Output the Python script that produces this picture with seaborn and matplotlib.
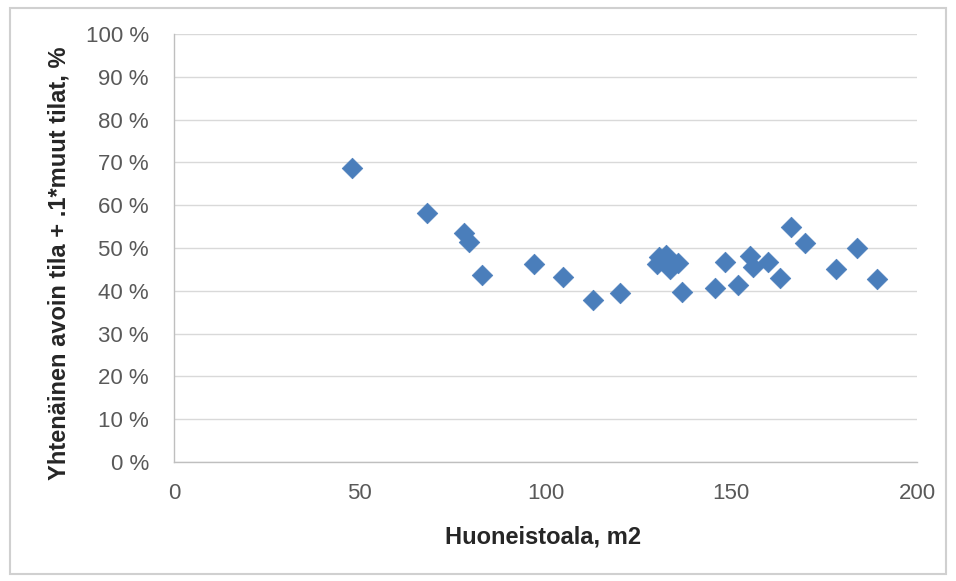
import matplotlib
matplotlib.use("Agg")
import matplotlib.pyplot as plt
from matplotlib.patches import Rectangle
from matplotlib.ticker import FuncFormatter, MultipleLocator
import seaborn as sns
import pandas as pd

# huoneistoala (m2) ja yhtenäinen avoin tila (%)
area = [48, 68, 78, 79.5, 83, 97, 104.7, 112.8, 120,
        130, 130.5, 132.5, 133.5, 135.7, 136.7, 145.6, 148.3, 151.9,
        155, 155.9, 160, 163.1, 166, 169.8, 178.2, 183.9, 189.1]
open_share = [68.7, 58.2, 53.5, 51.4, 43.6, 46.3, 43.2, 37.9, 39.4,
              46.3, 47.8, 48.4, 45.0, 46.5, 39.8, 40.7, 46.8, 41.4,
              48.2, 45.6, 46.8, 43.1, 55.0, 51.2, 45.0, 49.9, 42.7]

df = pd.DataFrame({"area": area, "share": open_share})

sns.set_style("white")
plt.rcParams["font.family"] = ["Liberation Sans", "DejaVu Sans"]

fig = plt.figure(figsize=(9.56, 5.81), dpi=100)
ax = fig.add_axes([174 / 956, 1 - 462 / 581, (917 - 174) / 956, (462 - 34) / 581])

sns.scatterplot(data=df, x="area", y="share", marker="D", s=110,
                color="#4a7ebb", edgecolor="#4a7ebb", linewidth=0.5, ax=ax, zorder=3)

ax.set_xlim(0, 200)
ax.set_ylim(0, 100)
ax.xaxis.set_major_locator(MultipleLocator(50))
ax.yaxis.set_major_locator(MultipleLocator(10))
ax.yaxis.set_major_formatter(FuncFormatter(lambda v, p: f"{int(v)} %"))

ax.grid(axis="y", color="#d9d9d9", linewidth=1)
ax.set_axisbelow(True)
for side in ["top", "right"]:
    ax.spines[side].set_visible(False)
for side in ["left", "bottom"]:
    ax.spines[side].set_color("#bfbfbf")
    ax.spines[side].set_linewidth(1)

ax.tick_params(axis="both", direction="out", length=5, width=1, color="#bfbfbf",
               labelsize=16, labelcolor="#595959")
ax.tick_params(axis="y", pad=13)
ax.tick_params(axis="x", pad=10)

ax.set_xlabel("Huoneistoala, m2", fontsize=17, fontweight="bold", color="#262626", va="center")
ax.set_ylabel("Yhtenäinen avoin tila + .1*muut tilat, %", fontsize=17, fontweight="bold",
              color="#262626", va="center")
ax.xaxis.set_label_coords(0.497, -0.175)
ax.yaxis.set_label_coords(-0.155, 0.465)

# kehys kuvan ympärille
fig.patches.append(Rectangle((10 / 956, 1 - 574 / 581), 936 / 956, 566 / 581,
                             transform=fig.transFigure, fill=False,
                             edgecolor="#d0d0d0", linewidth=1.5))

fig.savefig("out.png", dpi=100)
plt.close(fig)
